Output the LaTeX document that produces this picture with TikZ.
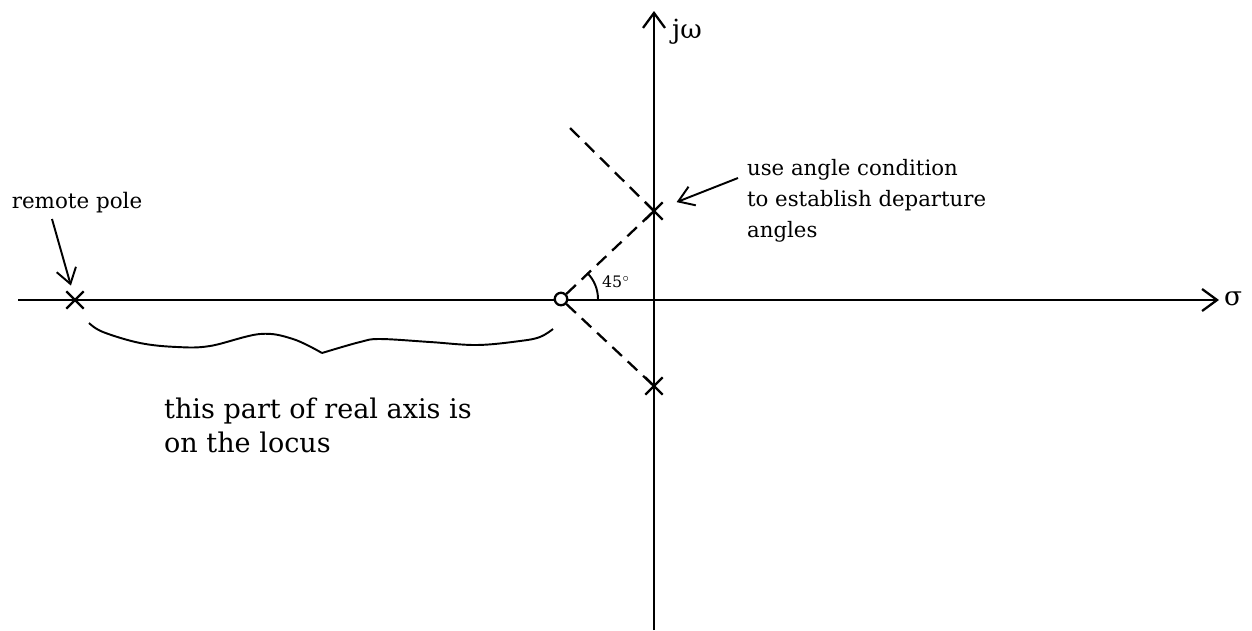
\documentclass[tikz,border=0pt]{standalone}
\usepackage{fontspec}
\setmainfont{DejaVu Serif}
\usetikzlibrary{arrows.meta, shapes.misc}

\begin{document}
\begin{tikzpicture}[x=0.02cm, y=-0.02cm, line width=1.3pt,
  axis/.style={-{Straight Barb[length=3mm, width=4.4mm]}},
  pole/.style={cross out, draw, minimum size=0.3cm, inner sep=0pt},
  zero/.style={circle, draw, fill=white, minimum size=0.25cm, inner sep=0pt},
  guide/.style={dash pattern=on 0.26cm off 0.16cm},
  note/.style={-{Straight Barb[length=3mm, width=4mm]}, line width=1.1pt},
  lbl/.style={inner sep=0pt, align=left}
]
  \useasboundingbox (0,0) rectangle (1252,630);

  % axes
  \coordinate (sl) at (18,300);
  \coordinate (sr) at (1219,300);
  \coordinate (wb) at (654,630);
  \coordinate (wt) at (654,11);
  \draw[axis] (sl) -- (sr);
  \draw[axis] (wb) -- (wt);
  \node[lbl, anchor=west, font=\fontsize{15}{18}\selectfont] (sig) at (1223,299) {σ};
  \node[lbl, anchor=west, font=\fontsize{15}{18}\selectfont] (jw) at (671,32) {jω};

  % poles and zero
  \node[pole] (p1) at (75,300) {};
  \node[pole] (pa) at (654,211) {};
  \node[pole] (pb) at (654,386) {};
  \node[zero] (z) at (561,299) {};

  % departure lines
  \coordinate (dep) at (567,125);
  \draw[guide] (z) -- (pa.center);
  \draw[guide] (pa.center) -- (dep);
  \draw[guide] (z) -- (pb.center);
  \draw[line width=1.1pt] (z.center) ++(37,0) arc[start angle=0, end angle=-45, radius=37];
  \node[lbl, font=\fontsize{9}{10}\selectfont] (ang) at (616,282) {45$^{\circ}$};

  % annotations
  \node[lbl, font=\fontsize{12.2}{14}\selectfont] (rp) at (77,203) {remote pole};
  \coordinate (rt) at (52,219);
  \draw[note, shorten >=0.12cm] (rt) -- (p1);

  \node[lbl, anchor=west, font=\fontsize{12.1}{17.6}\selectfont] (dc) at (746,201)
    {use angle condition\\to establish departure\\angles};
  \coordinate (nt) at (738,178);
  \draw[note, shorten >=0.3cm] (nt) -- (pa);

  % brace under the locus part
  \draw[line width=1.1pt] plot[smooth, tension=0.6] coordinates
    {(89,323) (103,332) (140,343) (177,347) (210,346) (260,334) (293,339) (322,353)};
  \draw[line width=1.1pt] plot[smooth, tension=0.6] coordinates
    {(322,353) (360,342) (380,339) (430,342) (477,345) (520,341) (540,337) (553,329)};
  \node[lbl, anchor=west, font=\fontsize{15.4}{19.4}\selectfont] (lc) at (163,425)
    {this part of real axis is\\on the locus};
\end{tikzpicture}
\end{document}
